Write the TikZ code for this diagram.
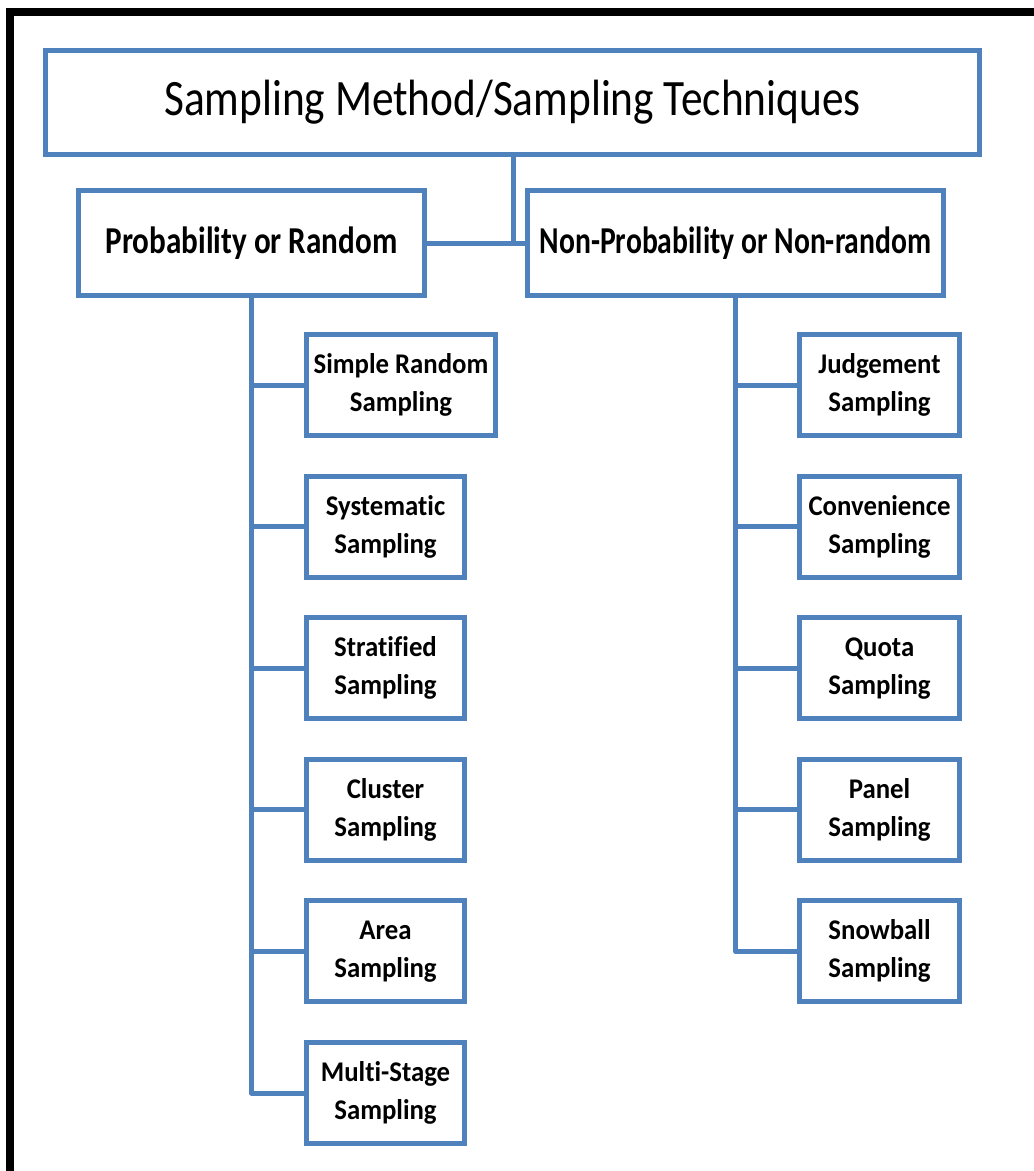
\documentclass[tikz,border=0pt]{standalone}
\usepackage{fontspec}
\setmainfont[Ligatures=NoCommon]{Carlito}
\newfontfamily\titlefont[FakeStretch=0.85,Ligatures=NoCommon]{Carlito}
\newfontfamily\probfont[FakeStretch=0.82,Ligatures=NoCommon]{Carlito}
\newfontfamily\npfont[FakeStretch=0.78,Ligatures=NoCommon]{Carlito}
\newfontfamily\childfont[FakeStretch=0.94,Ligatures=NoCommon]{Carlito}
\definecolor{boxblue}{HTML}{4F81BD}
\begin{document}
\begin{tikzpicture}[x=1pt,y=-1pt,
  box/.style={draw=boxblue, line width=5pt, rectangle, fill=white, align=center, inner sep=0pt},
  child/.style={box, minimum height=101pt, font=\childfont\bfseries\fontsize{28.5}{38}\selectfont},
  lchild/.style={child, minimum width=158pt},
  rchild/.style={child, minimum width=160pt},
  link/.style={draw=boxblue, line width=5pt}]
\useasboundingbox (0,0) rectangle (1034,1171);
\fill[white] (0,0) rectangle (1034,1171);
% black frame (top and left)
\draw[line width=8pt, black] (10,1171) -- (10,11.5) -- (1034,11.5);

\node[box, minimum width=934pt, minimum height=104pt, font=\titlefont\fontsize{51}{60}\selectfont] (title) at (512.5,102.5) {Sampling Method/Sampling Techniques};
\node[box, minimum width=346pt, minimum height=105pt, font=\probfont\bfseries\fontsize{38}{44}\selectfont] (prob) at (251.5,243) {Probability or Random};
\node[box, minimum width=416pt, minimum height=105pt, font=\npfont\bfseries\fontsize{38}{44}\selectfont] (nonprob) at (735.5,243) {Non-Probability or Non-random};

\coordinate (junc) at (513.5,244);
\draw[link] (title.south -| junc) -- (junc);
\draw[link] (prob.east) -- (nonprob.west);

% left children
\node[child, minimum width=189pt] (l1) at (401,385) {Simple Random\\Sampling};
\node[lchild] (l2) at (385.5,526.6) {Systematic\\Sampling};
\node[lchild] (l3) at (385.5,668.2) {Stratified\\Sampling};
\node[lchild] (l4) at (385.5,809.8) {Cluster\\Sampling};
\node[lchild] (l5) at (385.5,951.4) {Area\\Sampling};
\node[lchild] (l6) at (385.5,1093) {Multi-Stage\\Sampling};

% right children
\node[rchild] (r1) at (879.5,385) {Judgement\\Sampling};
\node[rchild] (r2) at (879.5,526.6) {Convenience\\Sampling};
\node[rchild] (r3) at (879.5,668.2) {Quota\\Sampling};
\node[rchild] (r4) at (879.5,809.8) {Panel\\Sampling};
\node[rchild] (r5) at (879.5,951.4) {Snowball\\Sampling};

\draw[link, line join=round] (prob.south) |- (l6.west);
\foreach \n in {l1,l2,l3,l4,l5} \draw[link] (prob.south |- \n.west) -- (\n.west);
\draw[link, line join=round] (nonprob.south) |- (r5.west);
\foreach \n in {r1,r2,r3,r4} \draw[link] (nonprob.south |- \n.west) -- (\n.west);
\end{tikzpicture}
\end{document}
